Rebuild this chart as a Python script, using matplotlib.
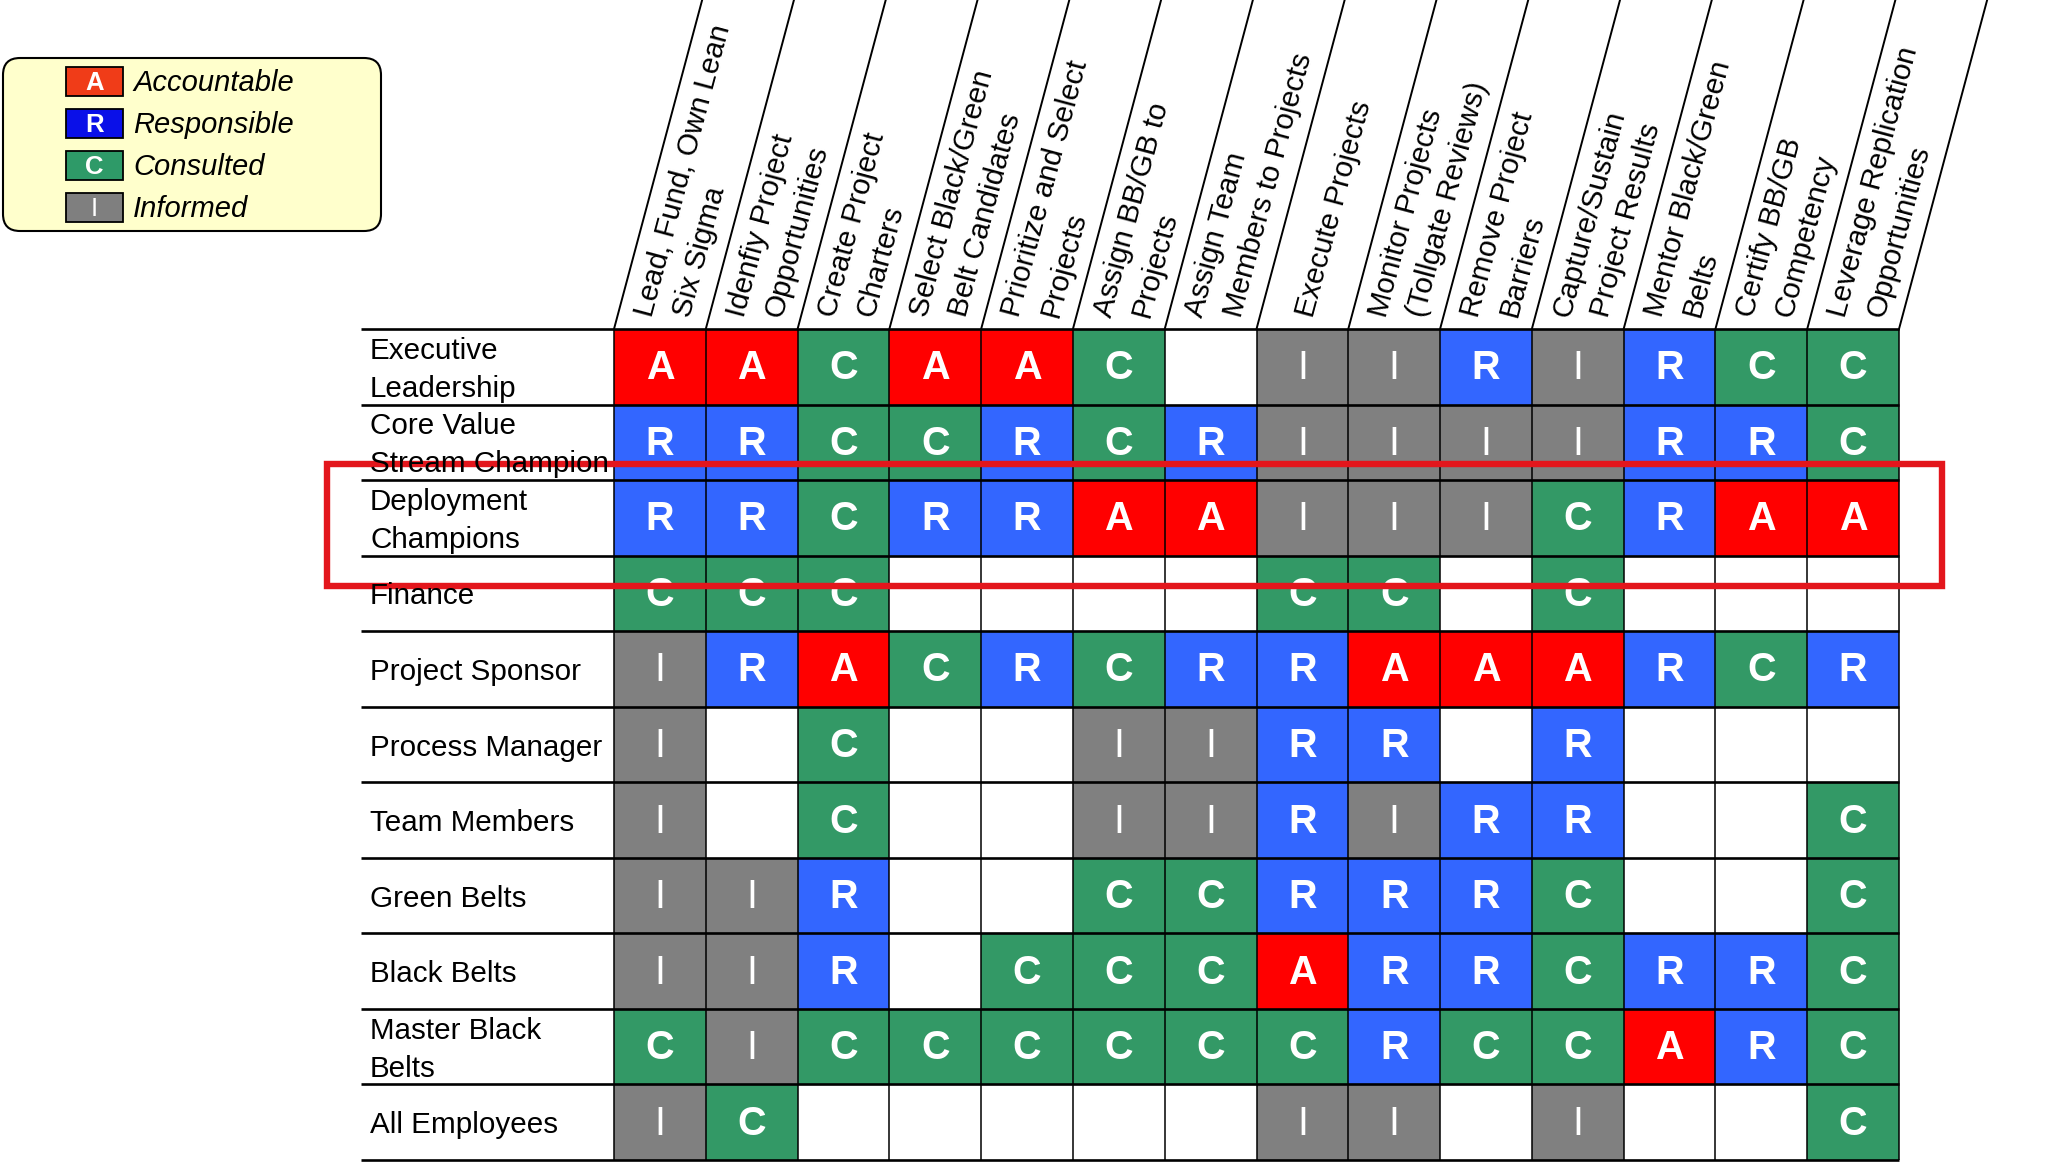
import matplotlib
matplotlib.use("Agg")
import matplotlib.pyplot as plt
import matplotlib.transforms as mtransforms
from matplotlib.patches import Rectangle, FancyBboxPatch
import numpy as np

plt.rcParams['font.family'] = ['Liberation Sans', 'DejaVu Sans']

# ---------------- data ----------------
tasks = [
    "Lead, Fund, Own Lean\nSix Sigma",
    "Idenfiy Project\nOpportunities",
    "Create Project\nCharters",
    "Select Black/Green\nBelt Candidates",
    "Prioritize and Select\nProjects",
    "Assign BB/GB to\nProjects",
    "Assign Team\nMembers to Projects",
    "Execute Projects",
    "Monitor Projects\n(Tollgate Reviews)",
    "Remove Project\nBarriers",
    "Capture/Sustain\nProject Results",
    "Mentor Black/Green\nBelts",
    "Certify BB/GB\nCompetency",
    "Leverage Replication\nOpportunities",
]

roles = [
    "Executive\nLeadership",
    "Core Value\nStream Champion",
    "Deployment\nChampions",
    "Finance",
    "Project Sponsor",
    "Process Manager",
    "Team Members",
    "Green Belts",
    "Black Belts",
    "Master Black\nBelts",
    "All Employees",
]

executive_leadership = ["A", "A", "C", "A", "A", "C", "", "I", "I", "R", "I", "R", "C", "C"]
core_value_stream    = ["R", "R", "C", "C", "R", "C", "R", "I", "I", "I", "I", "R", "R", "C"]
deployment_champions = ["R", "R", "C", "R", "R", "A", "A", "I", "I", "I", "C", "R", "A", "A"]
finance              = ["C", "C", "C", "", "", "", "", "C", "C", "", "C", "", "", ""]
project_sponsor      = ["I", "R", "A", "C", "R", "C", "R", "R", "A", "A", "A", "R", "C", "R"]
process_manager      = ["I", "", "C", "", "", "I", "I", "R", "R", "", "R", "", "", ""]
team_members         = ["I", "", "C", "", "", "I", "I", "R", "I", "R", "R", "", "", "C"]
green_belts          = ["I", "I", "R", "", "", "C", "C", "R", "R", "R", "C", "", "", "C"]
black_belts          = ["I", "I", "R", "", "C", "C", "C", "A", "R", "R", "C", "R", "R", "C"]
master_black_belts   = ["C", "I", "C", "C", "C", "C", "C", "C", "R", "C", "C", "A", "R", "C"]
all_employees        = ["I", "C", "", "", "", "", "", "I", "I", "", "I", "", "", "C"]

matrix = [executive_leadership, core_value_stream, deployment_champions, finance,
          project_sponsor, process_manager, team_members, green_belts,
          black_belts, master_black_belts, all_employees]

legend_codes = ["A", "R", "C", "I"]
legend_labels = ["Accountable", "Responsible", "Consulted", "Informed"]

highlight_row = 2

# ---------------- styles ----------------
cell_colors = {"A": "#FF0000", "R": "#3366FF", "C": "#339966", "I": "#808080"}
legend_colors = {"A": "#F03C18", "R": "#0A10E8", "C": "#2E9A68", "I": "#7F7F7F"}

W, H, DPI = 2046, 1162, 100
fig = plt.figure(figsize=(W / DPI, H / DPI), dpi=DPI)
fig.patch.set_facecolor("white")

# pixel transform (x right, y down) in figure pixels
px = mtransforms.Affine2D().scale(1.0 / W, -1.0 / H).translate(0, 1) + fig.transFigure

GX0, GX1 = 614, 1899
GY0, GY1 = 329, 1160
LABEL_X0 = 361
ncol, nrow = len(tasks), len(roles)
CW = (GX1 - GX0) / ncol
RH = (GY1 - GY0) / nrow

ax = fig.add_axes([GX0 / W, 1 - GY1 / H, (GX1 - GX0) / W, (GY1 - GY0) / H])
ax.set_xlim(0, ncol)
ax.set_ylim(nrow, 0)
ax.axis("off")

# cells
for i, row in enumerate(matrix):
    for j, code in enumerate(row):
        if code:
            ax.add_patch(Rectangle((j, i), 1, 1, facecolor=cell_colors[code],
                                   edgecolor="none", zorder=1))
            ax.text(j + 0.5, i + 0.52, code, color="white", fontsize=28.5,
                    fontweight="bold" if code != "I" else "normal",
                    ha="center", va="center", zorder=3)

# grid lines
lx = (LABEL_X0 - GX0) / CW
for i in range(nrow + 1):
    ax.plot([lx, ncol], [i, i], color="black", lw=1.9, clip_on=False, zorder=2,
            solid_capstyle="butt")
for j in range(ncol + 1):
    ax.plot([j, j], [0, nrow], color="black", lw=1.1, clip_on=False, zorder=2,
            solid_capstyle="butt")

# slanted header lines
ang = np.deg2rad(75)
rise = GY0 + 10
for j in range(ncol + 1):
    ax.plot([j, j + rise / np.tan(ang) / CW], [0, -rise / RH], color="black",
            lw=1.4, clip_on=False, zorder=2)

# row labels
for i, r in enumerate(roles):
    fig.text(370, GY0 + (i + 0.5) * RH + 3, r, transform=px, fontsize=21.3,
             ha="left", va="center", linespacing=1.45, zorder=4)

# header labels (each line starts at same height, lines offset perpendicular)
LS = 37.0
ya = GY0 - 13
for j, t in enumerate(tasks):
    lines = t.split("\n")
    n = len(lines)
    xm = GX0 + (j + 0.5) * CW + (GY0 - ya) / np.tan(ang)
    for k, ln in enumerate(lines):
        s = (k - (n - 1) / 2) * LS
        fig.text(xm + s / np.sin(ang), ya, ln, transform=px, fontsize=21.3,
                 rotation=75, rotation_mode="anchor", ha="left", va="center")

# legend
box = FancyBboxPatch((3, 58), 378, 173, boxstyle="round,pad=0,rounding_size=17",
                     transform=px, facecolor="#FFFFCC", edgecolor="black", lw=1.5)
fig.add_artist(box)
for k, (c, lab) in enumerate(zip(legend_codes, legend_labels)):
    yc = 81.5 + k * 42
    fig.add_artist(Rectangle((66, yc - 14.5), 57, 29, transform=px,
                             facecolor=legend_colors[c], edgecolor="black", lw=1.3))
    fig.text(94.5, yc + 1, c, transform=px, color="white", fontsize=18.5,
             fontweight="bold" if c != "I" else "normal", ha="center", va="center")
    fig.text(133, yc + 1.5, lab, transform=px, fontsize=21, style="italic",
             ha="left", va="center")

# red highlight around one role row
ax.add_patch(Rectangle((-(GX0 - 326.5) / CW, highlight_row - 0.21),
                       ncol + (GX0 - 326.5) / CW + (1941.5 - GX1) / CW, 1.61,
                       facecolor="none", edgecolor="#E3161C", lw=4.6,
                       clip_on=False, zorder=6))

fig.savefig("out.png", dpi=DPI, facecolor="white")
